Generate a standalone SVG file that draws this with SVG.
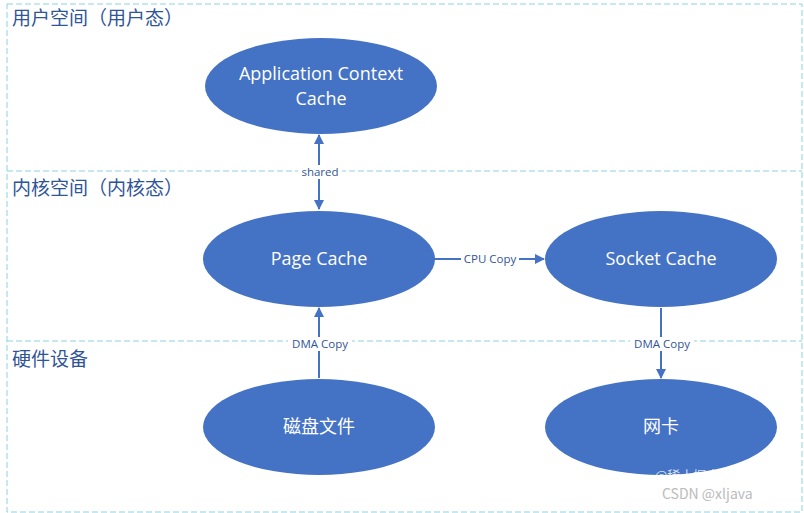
<svg xmlns="http://www.w3.org/2000/svg" width="804" height="513" viewBox="0 0 804 513">
<style>
.sec{font-family:"Noto Sans CJK SC","Noto Sans",sans-serif;font-size:19px;fill:#2F5597}
.node ellipse{fill:#4472C4}
.node text{font-family:"Open Sans","Noto Sans CJK SC",sans-serif;font-size:18px;fill:#fff;text-anchor:middle}
.lbl{font-family:"Open Sans","Noto Sans",sans-serif;font-size:11.5px;fill:#2F5597;text-anchor:middle}
.ln{stroke:#4472C4;stroke-width:2;fill:none}
.dash{stroke:#8DD3E0;stroke-width:1;stroke-dasharray:6 3;fill:none}
</style>
<defs><marker id="a" viewBox="0 0 10 10" refX="9" refY="5" markerWidth="5" markerHeight="5" orient="auto-start-reverse"><path d="M0,0L10,5L0,10z" fill="#4472C4"/></marker></defs>
<rect width="804" height="513" fill="#fff"/>
<rect class="dash" x="7" y="4" width="795" height="508"/>
<line class="dash" x1="7" y1="171" x2="802" y2="171"/>
<line class="dash" x1="7" y1="341" x2="802" y2="341"/>
<text class="sec" x="12" y="25">用户空间（用户态）</text>
<text class="sec" x="12" y="195">内核空间（内核态）</text>
<text class="sec" x="12" y="366">硬件设备</text>
<g id="connectors">
<line class="ln" x1="319" y1="209" x2="319" y2="135" marker-start="url(#a)" marker-end="url(#a)"/>
<rect x="298" y="165" width="44" height="14" fill="#fff"/><text class="lbl" x="320" y="176">shared</text>
<line class="ln" x1="434" y1="259" x2="544" y2="259" marker-end="url(#a)"/>
<rect x="461" y="252" width="58" height="14" fill="#fff"/><text class="lbl" x="490" y="263">CPU Copy</text>
<line class="ln" x1="319" y1="378" x2="319" y2="308" marker-end="url(#a)"/>
<rect x="288" y="337" width="64" height="14" fill="#fff"/><text class="lbl" x="320" y="348">DMA Copy</text>
<line class="ln" x1="661" y1="308" x2="661" y2="378" marker-end="url(#a)"/>
<rect x="630" y="337" width="64" height="14" fill="#fff"/><text class="lbl" x="662" y="348">DMA Copy</text>
</g>
<g id="app" class="node"><ellipse cx="321" cy="86" rx="116" ry="48"/><text x="321" y="80">Application Context</text><text x="321" y="105">Cache</text></g>
<g id="page" class="node"><ellipse cx="319" cy="259" rx="116" ry="48"/><text x="319" y="265">Page Cache</text></g>
<g id="socket" class="node"><ellipse cx="661" cy="259" rx="116" ry="48"/><text x="661" y="265">Socket Cache</text></g>
<g id="disk" class="node"><ellipse cx="319" cy="427" rx="116" ry="48"/><text x="319" y="433">磁盘文件</text></g>
<g id="nic" class="node"><ellipse cx="661" cy="427" rx="116" ry="48"/><text x="661" y="433">网卡</text></g>
<text x="655" y="480" font-family="Noto Sans CJK SC,sans-serif" font-size="13" fill="#fff" fill-opacity="0.8">@稀土掘金技术社区</text>
<text x="662" y="499" font-family="Noto Sans CJK SC,sans-serif" font-size="14" fill="#bbb">CSDN @xljava</text>
</svg>
